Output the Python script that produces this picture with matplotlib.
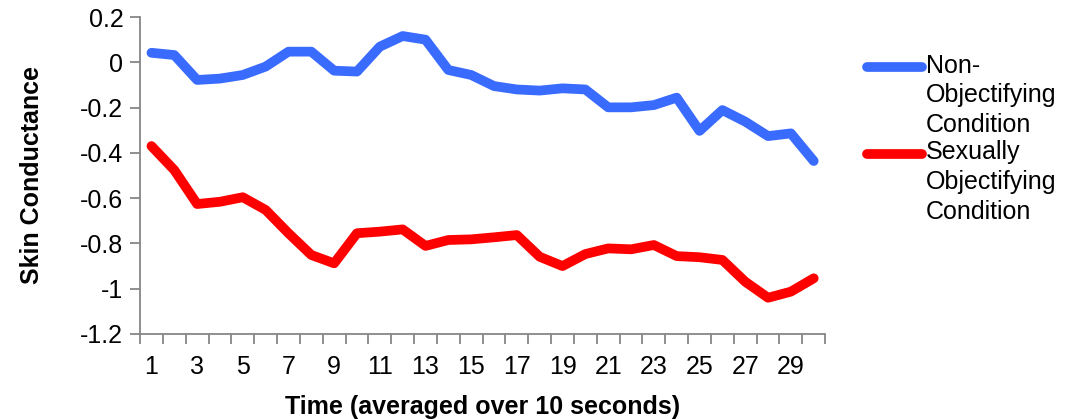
import numpy as np
import matplotlib.pyplot as plt
from matplotlib.lines import Line2D

plt.rcParams['font.family'] = ['Liberation Sans', 'DejaVu Sans']

# mean skin conductance per 10-second bin
time_bins = np.arange(1, 31)
non_objectifying = [0.042, 0.032, -0.078, -0.072, -0.056, -0.019, 0.047, 0.047, -0.037, -0.041,
                    0.069, 0.116, 0.100, -0.034, -0.056, -0.105, -0.120, -0.125, -0.115, -0.120,
                    -0.199, -0.199, -0.189, -0.156, -0.303, -0.211, -0.262, -0.326, -0.314, -0.436]
sexually_objectifying = [-0.370, -0.476, -0.626, -0.616, -0.596, -0.652, -0.755, -0.851, -0.888, -0.755,
                         -0.748, -0.738, -0.811, -0.785, -0.782, -0.773, -0.763, -0.859, -0.900, -0.847,
                         -0.822, -0.826, -0.807, -0.856, -0.861, -0.873, -0.969, -1.040, -1.013, -0.954]
labels = ['Non-\nObjectifying\nCondition', 'Sexually\nObjectifying\nCondition']
colors = ['#3a6bff', '#ff0000']
yticks = [0.2, 0, -0.2, -0.4, -0.6, -0.8, -1, -1.2]
ytick_labels = ['0.2', '0', '-0.2', '-0.4', '-0.6', '-0.8', '-1', '-1.2']

fs = 18

fig = plt.figure(figsize=(10.73, 4.19), dpi=100)
ax = fig.add_axes([0.1305, 0.2029, 0.6385, 0.7565])

for series, c in zip([non_objectifying, sexually_objectifying], colors):
    ax.plot(time_bins, series, color=c, lw=7, solid_capstyle='round', solid_joinstyle='round')

ax.set_xlim(0.5, 30.5)
ax.set_ylim(-1.2, 0.2)
ax.set_yticks(yticks)
ax.set_yticklabels(ytick_labels)

# category boundaries get the tick marks, odd bins get the labels
ax.set_xticks(np.arange(0.5, 31, 1))
ax.set_xticklabels([])
ax.set_xticks(time_bins[::2], minor=True)
ax.set_xticklabels([str(t) for t in time_bins[::2]], minor=True)
ax.tick_params(axis='x', which='major', length=7, width=1.3, color='#868686', direction='out')
ax.tick_params(axis='x', which='minor', length=0, pad=15, labelsize=fs)
ax.tick_params(axis='y', length=7, width=1.3, color='#868686', labelsize=fs, pad=5)

for side in ['top', 'right']:
    ax.spines[side].set_visible(False)
for side in ['left', 'bottom']:
    ax.spines[side].set_color('#868686')
    ax.spines[side].set_linewidth(1.3)

ax.set_xlabel('Time (averaged over 10 seconds)', fontsize=fs, fontweight='bold', labelpad=12)
ax.set_ylabel('Skin Conductance', fontsize=fs, fontweight='bold', labelpad=26)

# legend drawn by hand so the swatch sits on the first line of each label
legend_y = [0.840, 0.633]
for lab, c, y in zip(labels, colors, legend_y):
    fig.add_artist(Line2D([0.808, 0.859], [y, y], color=c, lw=7,
                          solid_capstyle='round', transform=fig.transFigure))
    fig.text(0.863, y + 0.032, lab, fontsize=fs, va='top', ha='left', linespacing=1.3)

fig.savefig('out.png', dpi=100)
